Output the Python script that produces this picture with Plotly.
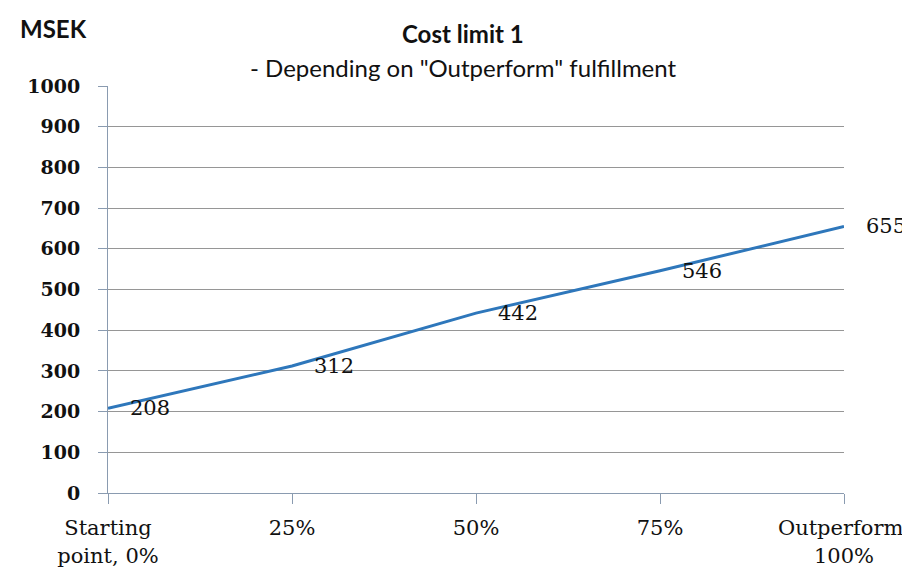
import plotly.graph_objects as go

# Data
fulfillment_pct = [0, 25, 50, 75, 100]
cost_msek = [208, 312, 442, 546, 655]
x_tick_labels = ["Starting<br>point, 0%", "25%", "50%", "75%", "Outperform,<br>100%"]
y_tick_values = list(range(0, 1001, 100))

title_main = "<b>Cost limit 1</b>"
title_sub = "- Depending on \"Outperform\" fulfillment"
unit_text = "<b>MSEK</b>"

LINE_COLOR = "#2e77bb"
AXIS_COLOR = "#8a9bb0"
GRID_COLOR = "#969696"
TEXT_COLOR = "#111111"
SERIF = "DejaVu Serif"
SANS = "Lato"

fig = go.Figure()
fig.add_trace(go.Scatter(
    x=fulfillment_pct,
    y=cost_msek,
    mode="lines",
    line=dict(color=LINE_COLOR, width=3),
    cliponaxis=False,
    showlegend=False,
    hoverinfo="skip",
))

for xv, yv in zip(fulfillment_pct, cost_msek):
    fig.add_annotation(
        x=xv, y=yv, xref="x", yref="y",
        text=str(yv), showarrow=False,
        xanchor="left", yanchor="middle", xshift=20,
        font=dict(family=SERIF, size=21, color=TEXT_COLOR),
    )

# Unit label and two-line title (positioned in paper space relative to plot)
fig.add_annotation(
    x=0, y=1, xref="paper", yref="paper",
    text=unit_text, showarrow=False,
    xanchor="left", yanchor="middle", xshift=-90, yshift=58,
    font=dict(family=SANS, size=24, color=TEXT_COLOR),
)
fig.add_annotation(
    x=455, y=1, xref="paper", yref="paper",
    text=title_main, showarrow=False,
    xanchor="center", yanchor="middle", yshift=53,
    font=dict(family=SANS, size=24, color=TEXT_COLOR),
)
fig.add_annotation(
    x=455, y=1, xref="paper", yref="paper",
    text=title_sub, showarrow=False,
    xanchor="center", yanchor="middle", yshift=19,
    font=dict(family=SANS, size=24, color=TEXT_COLOR),
)

fig.update_layout(
    width=910, height=567,
    template="none",
    paper_bgcolor="white",
    plot_bgcolor="white",
    margin=dict(l=100, r=74, t=78, b=82),
    xaxis=dict(
        range=[0, 100],
        tickvals=fulfillment_pct,
        ticktext=x_tick_labels,
        showgrid=False,
        zeroline=False,
        showline=True, linecolor=AXIS_COLOR, linewidth=1,
        ticks="outside", ticklen=10, tickcolor=AXIS_COLOR, tickwidth=1,
        tickfont=dict(family=SERIF, size=21, color=TEXT_COLOR),
        ticklabelstandoff=6,
        automargin=False,
    ),
    yaxis=dict(
        range=[0, 1000],
        tickvals=y_tick_values,
        showgrid=True, gridcolor=GRID_COLOR, gridwidth=1,
        zeroline=False,
        showline=True, linecolor=AXIS_COLOR, linewidth=1,
        ticks="outside", ticklen=9, tickcolor=AXIS_COLOR, tickwidth=1,
        tickfont=dict(family=SERIF, size=19, color=TEXT_COLOR, weight="bold"),
        ticklabelstandoff=14,
        automargin=False,
    ),
)

# x of title annotations given in pixels -> convert to paper fraction
plot_w = 910 - 100 - 74
for ann in fig.layout.annotations[-2:]:
    ann.x = (455 - 100) / plot_w

fig.write_html("out.html")
